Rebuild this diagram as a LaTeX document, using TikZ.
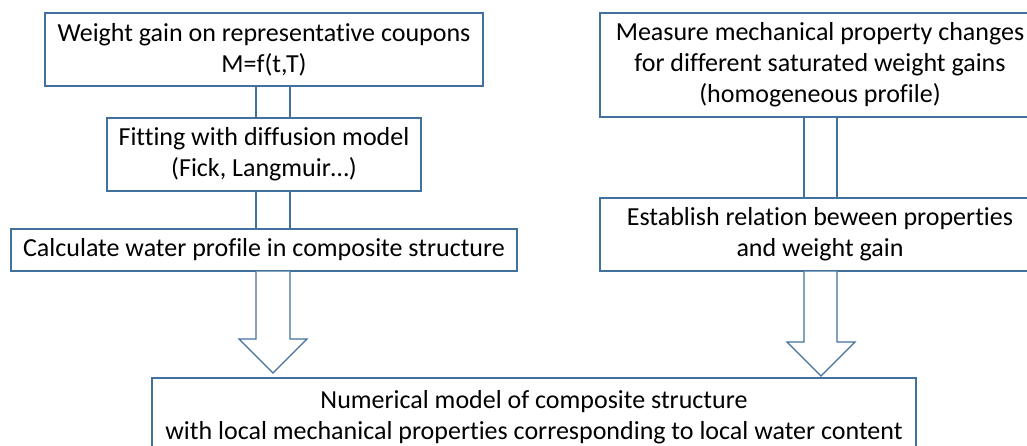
\documentclass[tikz,border=0pt]{standalone}
\usepackage{fontspec}
\setmainfont{Carlito}[Ligatures=NoCommon]
\usetikzlibrary{calc}
\definecolor{boxblue}{RGB}{65,113,156}
\tikzset{
    every node/.append style={font=\fontsize{13}{15.5}\selectfont},
    box/.style={draw=boxblue, fill=white, line width=0.6pt, inner sep=0pt, align=center},
    shaft/.style={boxblue, line width=0.6pt, line join=miter},
    x=0.5pt, y=-0.5pt
}

\begin{document}
\begin{tikzpicture}
\useasboundingbox (0,0) rectangle (1027,445);
\clip (0,0) rectangle (1027,445);

% left column
\node[box, minimum width=219pt, minimum height=36.5pt] (wgain) at (264,49.5) {Weight gain on representative coupons\\M=f(t,T)};
\node[box, minimum width=157pt, minimum height=36.5pt] (fit) at (264,154.5) {Fitting with diffusion model\\(Fick, Langmuir…)};
\node[box, minimum width=253pt, minimum height=21pt] (calc) at (264,250) {Calculate water profile in composite structure};

% right column
\node[box, minimum width=220pt, minimum height=52pt] (measure) at (820,65) {Measure mechanical property changes\\for different saturated weight gains\\(homogeneous profile)};
\node[box, minimum width=220pt, minimum height=36.5pt] (relation) at (820,234.5) {Establish relation beween properties\\and weight gain};

% result
\node[box, minimum width=382pt, minimum height=39pt] (model) at (534,417) {Numerical model of composite structure\\with local mechanical properties corresponding to local water content};

\coordinate (lL) at (256,0);
\coordinate (lR) at (290,0);
\coordinate (rL) at (804,0);
\coordinate (rR) at (837,0);

\foreach \a/\b in {wgain/fit, fit/calc} {
    \draw[shaft] (lL |- \a.south) -- (lL |- \b.north);
    \draw[shaft] (lR |- \a.south) -- (lR |- \b.north);
}
\draw[shaft] (rL |- measure.south) -- (rL |- relation.north);
\draw[shaft] (rR |- measure.south) -- (rR |- relation.north);

\coordinate (ltip) at (273,373);
\coordinate (rtip) at (821,376);
\draw[shaft, fill=white] (lL |- calc.south) -- (256,339) -- (239,339) -- (ltip) -- (307,339) -- (290,339) -- (lR |- calc.south);
\draw[shaft, fill=white] (rL |- relation.south) -- (804,342) -- (787,342) -- (rtip) -- (855,342) -- (837,342) -- (rR |- relation.south);
\end{tikzpicture}
\end{document}
